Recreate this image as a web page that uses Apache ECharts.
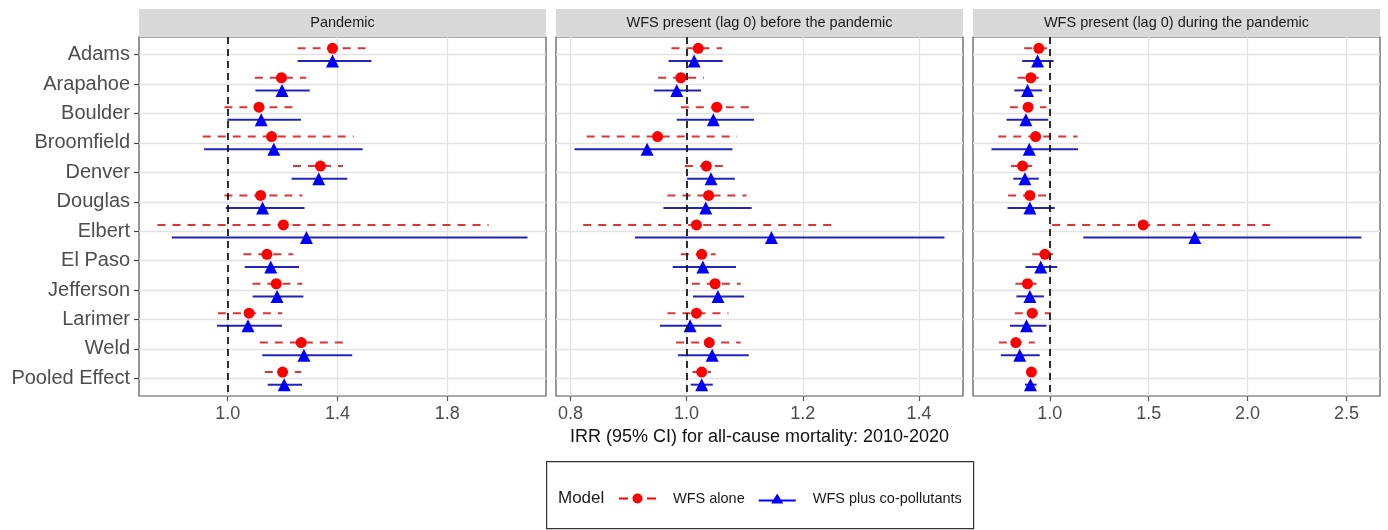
<!DOCTYPE html>
<html>
<head>
<meta charset="utf-8">
<title>IRR for all-cause mortality, 2010-2020</title>
<script src="https://cdn.jsdelivr.net/npm/echarts@6/dist/echarts.min.js"></script>
<style>
  html, body { margin: 0; padding: 0; background: #ffffff; }
  #chart { width: 1388px; height: 530px; }
</style>
</head>
<body>
<div id="chart"></div>
<script>
// Counties (top to bottom)
const counties = ['Adams', 'Arapahoe', 'Boulder', 'Broomfield', 'Denver', 'Douglas',
  'Elbert', 'El Paso', 'Jefferson', 'Larimer', 'Weld', 'Pooled Effect'];

// Panel titles
const panelTitles = ['Pandemic', 'WFS present (lag 0) before the pandemic', 'WFS present (lag 0) during the pandemic'];

// Model names
const modelNames = ['WFS alone', 'WFS plus co-pollutants'];

// Panel 1: Pandemic
const pandemicAloneEst = [1.382, 1.196, 1.114, 1.160, 1.338, 1.120, 1.203, 1.143, 1.177, 1.078, 1.268, 1.200];
const pandemicAloneLo  = [1.255, 1.099, 0.988, 0.909, 1.238, 0.988, 0.744, 1.057, 1.090, 0.964, 1.117, 1.135];
const pandemicAloneHi  = [1.527, 1.286, 1.255, 1.459, 1.420, 1.272, 1.951, 1.239, 1.272, 1.199, 1.441, 1.268];
const pandemicCoEst    = [1.382, 1.198, 1.122, 1.168, 1.332, 1.127, 1.287, 1.157, 1.180, 1.074, 1.278, 1.206];
const pandemicCoLo     = [1.255, 1.101, 0.999, 0.914, 1.233, 0.993, 0.796, 1.062, 1.091, 0.961, 1.126, 1.146];
const pandemicCoHi     = [1.524, 1.299, 1.267, 1.492, 1.436, 1.280, 2.093, 1.260, 1.276, 1.198, 1.454, 1.271];

// Panel 2: WFS present before the pandemic
const beforeAloneEst = [1.020, 0.990, 1.052, 0.950, 1.034, 1.038, 1.017, 1.026, 1.049, 1.017, 1.039, 1.026];
const beforeAloneLo  = [0.974, 0.951, 0.990, 0.828, 0.997, 0.967, 0.822, 0.990, 1.009, 0.967, 0.982, 1.010];
const beforeAloneHi  = [1.061, 1.030, 1.117, 1.087, 1.073, 1.103, 1.256, 1.050, 1.093, 1.072, 1.093, 1.042];
const beforeCoEst    = [1.013, 0.983, 1.046, 0.932, 1.042, 1.033, 1.146, 1.028, 1.054, 1.006, 1.044, 1.026];
const beforeCoLo     = [0.969, 0.944, 0.983, 0.807, 1.001, 0.960, 0.911, 0.976, 1.011, 0.954, 0.985, 1.007];
const beforeCoHi     = [1.062, 1.025, 1.116, 1.079, 1.083, 1.112, 1.444, 1.085, 1.099, 1.060, 1.107, 1.045];

// Panel 3: WFS present during the pandemic
const duringAloneEst = [0.944, 0.904, 0.890, 0.928, 0.862, 0.899, 1.472, 0.975, 0.887, 0.911, 0.828, 0.907];
const duringAloneLo  = [0.870, 0.837, 0.798, 0.739, 0.803, 0.789, 1.012, 0.911, 0.826, 0.823, 0.742, 0.893];
const duringAloneHi  = [1.022, 0.944, 0.983, 1.140, 0.911, 1.012, 2.141, 1.017, 0.933, 1.005, 0.924, 0.921];
const duringCoEst    = [0.938, 0.887, 0.879, 0.896, 0.874, 0.899, 1.733, 0.954, 0.899, 0.882, 0.848, 0.902];
const duringCoLo     = [0.860, 0.820, 0.781, 0.705, 0.815, 0.786, 1.169, 0.877, 0.831, 0.798, 0.752, 0.874];
const duringCoHi     = [1.019, 0.961, 0.992, 1.143, 0.944, 1.025, 2.576, 1.037, 0.970, 0.983, 0.949, 0.933];

// X-axis tick labels per panel
const ticksPandemic = [1.0, 1.4, 1.8];
const ticksBefore   = [0.8, 1.0, 1.2, 1.4];
const ticksDuring   = [1.0, 1.5, 2.0, 2.5];

const panels = [
  { alone: [pandemicAloneEst, pandemicAloneLo, pandemicAloneHi], co: [pandemicCoEst, pandemicCoLo, pandemicCoHi], ticks: ticksPandemic },
  { alone: [beforeAloneEst, beforeAloneLo, beforeAloneHi], co: [beforeCoEst, beforeCoLo, beforeCoHi], ticks: ticksBefore },
  { alone: [duringAloneEst, duringAloneLo, duringAloneHi], co: [duringCoEst, duringCoLo, duringCoHi], ticks: ticksDuring }
];

const FONT = '"Liberation Sans", Arial, Helvetica, sans-serif';
const DODGE = 0.215;           // vertical offset of each model around its county row
const PANEL_LEFT = 139, PANEL_W = 407, PANEL_STEP = 417, PANEL_TOP = 37, PANEL_H = 359;
const RED = '#FF0000', BLUE = '#0000FF';
const RED_LINE = '#DD3535', BLUE_LINE = '#2323B8';
const rowIdx = counties.map((_, i) => i);

// x range padded by 5% of the data span on both sides
function paddedRange(p) {
  const all = p.alone[1].concat(p.alone[2], p.co[1], p.co[2]);
  const lo = Math.min.apply(null, all), hi = Math.max.apply(null, all);
  const pad = (hi - lo) * 0.05;
  return [lo - pad, hi + pad];
}

function errorBar(color, dash) {
  return function (params, api) {
    const y = api.value(2);
    const a = api.coord([api.value(0), y]);
    const b = api.coord([api.value(1), y]);
    return {
      type: 'line',
      shape: { x1: a[0], y1: a[1], x2: b[0], y2: b[1] },
      style: { stroke: color, lineWidth: 2, lineDash: dash }
    };
  };
}

const grid = [], xAxis = [], yAxis = [], series = [], graphic = [];

panels.forEach((p, i) => {
  const left = PANEL_LEFT + i * PANEL_STEP;
  grid.push({ left: left, top: PANEL_TOP, width: PANEL_W, height: PANEL_H, show: true,
    borderColor: '#555555', borderWidth: 1.2, backgroundColor: '#ffffff' });

  const range = paddedRange(p);
  xAxis.push({
    type: 'value', gridIndex: i, min: range[0], max: range[1], position: 'bottom',
    axisLine: { show: false, onZero: false },
    axisTick: { show: true, customValues: p.ticks, length: 5, lineStyle: { color: '#555555', width: 1.2 } },
    axisLabel: { customValues: p.ticks, formatter: v => v.toFixed(1), fontFamily: FONT, fontSize: 18, color: '#4D4D4D', margin: 9 },
    splitLine: { show: true, lineStyle: { color: '#E2E2E2', width: 1.3 } },
    name: i === 1 ? 'IRR (95% CI) for all-cause mortality: 2010-2020' : '',
    nameLocation: 'middle', nameGap: 31,
    nameTextStyle: { fontFamily: FONT, fontSize: 18, color: '#111111' }
  });

  yAxis.push({
    type: 'value', gridIndex: i, inverse: true, min: -0.6, max: counties.length - 0.4, position: 'left',
    axisLine: { show: false, onZero: false },
    axisTick: { show: i === 0, customValues: rowIdx, length: 5, lineStyle: { color: '#444444', width: 1.2 } },
    axisLabel: { show: i === 0, customValues: rowIdx, formatter: v => counties[Math.round(v)] || '',
      fontFamily: FONT, fontSize: 20, color: '#4D4D4D', margin: 9 },
    splitLine: { show: true, lineStyle: { color: '#E2E2E2', width: 1.3 } }
  });

  const aloneBars = counties.map((c, k) => [p.alone[1][k], p.alone[2][k], k - DODGE]);
  const coBars = counties.map((c, k) => [p.co[1][k], p.co[2][k], k + DODGE]);

  series.push({
    type: 'custom', name: modelNames[0] + ' CI', xAxisIndex: i, yAxisIndex: i, z: 2,
    renderItem: errorBar(RED_LINE, [8, 7]), encode: { x: [0, 1], y: 2 }, data: aloneBars, silent: true
  });
  series.push({
    type: 'custom', name: modelNames[1] + ' CI', xAxisIndex: i, yAxisIndex: i, z: 2,
    renderItem: errorBar(BLUE_LINE, null), encode: { x: [0, 1], y: 2 }, data: coBars, silent: true
  });
  // null-effect reference line at IRR = 1
  series.push({
    type: 'scatter', name: 'reference', xAxisIndex: i, yAxisIndex: i, z: 3, data: [], silent: true,
    markLine: { silent: true, symbol: 'none', animation: false, label: { show: false },
      lineStyle: { color: '#1A1A1A', type: [7, 5], width: 1.8 }, emphasis: { disabled: true },
      data: [{ xAxis: 1 }] }
  });
  series.push({
    type: 'scatter', name: modelNames[0], xAxisIndex: i, yAxisIndex: i, z: 4,
    symbol: 'circle', symbolSize: 11, itemStyle: { color: RED, opacity: 1 },
    data: counties.map((c, k) => [p.alone[0][k], k - DODGE])
  });
  series.push({
    type: 'scatter', name: modelNames[1], xAxisIndex: i, yAxisIndex: i, z: 4,
    symbol: 'triangle', symbolSize: 13, itemStyle: { color: BLUE, opacity: 1 },
    data: counties.map((c, k) => [p.co[0][k], k + DODGE])
  });

  // facet strip
  graphic.push({ type: 'rect', left: left, top: 9, shape: { width: PANEL_W, height: 28 },
    style: { fill: '#D9D9D9' }, silent: true, z: 1 });
  graphic.push({ type: 'text', x: left + PANEL_W / 2, y: 23, silent: true, z: 2,
    style: { text: panelTitles[i], fontFamily: FONT, fontSize: 14.5, fill: '#1A1A1A',
      align: 'center', verticalAlign: 'middle' } });
});

// legend frame and title
graphic.push({ type: 'rect', left: 546, top: 461, shape: { width: 427, height: 67 },
  style: { fill: '#ffffff', stroke: '#333333', lineWidth: 1.2 }, silent: true, z: 0 });
graphic.push({ type: 'text', x: 558, y: 498, silent: true, z: 2,
  style: { text: 'Model', fontFamily: FONT, fontSize: 17, fill: '#1A1A1A', align: 'left', verticalAlign: 'middle' } });

const chart = echarts.init(document.getElementById('chart'), null, { renderer: 'canvas' });
chart.setOption({
  animation: false,
  backgroundColor: '#ffffff',
  grid: grid,
  xAxis: xAxis,
  yAxis: yAxis,
  series: series,
  graphic: graphic,
  legend: {
    left: 614, top: 486, orient: 'horizontal',
    itemWidth: 37, itemHeight: 10, itemGap: 14,
    selectedMode: false,
    textStyle: { fontFamily: FONT, fontSize: 14.5, color: '#1A1A1A', padding: [0, 0, 0, 12] },
    data: [
      { name: modelNames[0], icon: 'path://M0,4h9v2h-9z M28,4h9v2h-9z M13.5,5a5,5 0 1,0 10,0a5,5 0 1,0 -10,0z' },
      { name: modelNames[1], icon: 'path://M0,6h37v2h-37z M18.5,0L24.5,10L12.5,10z' }
    ]
  }
});
</script>
</body>
</html>
